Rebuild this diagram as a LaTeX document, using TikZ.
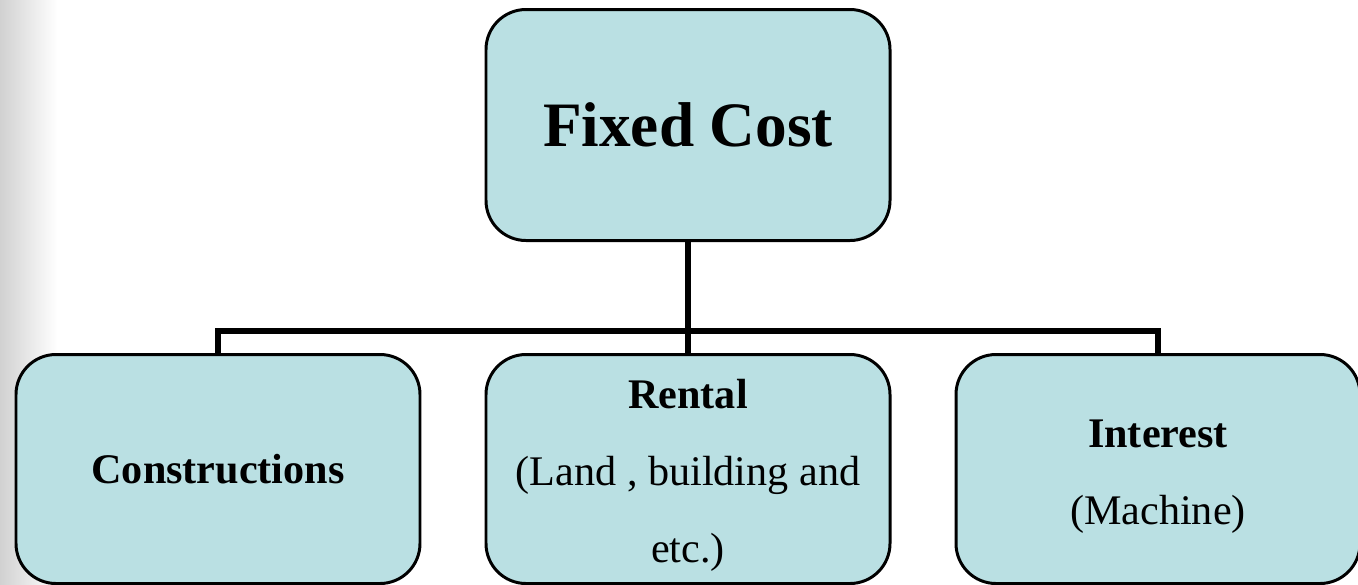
\documentclass[tikz,border=0pt]{standalone}
\usepackage{fontspec}
\setmainfont{Liberation Serif}
\usepackage{tikz}
\usetikzlibrary{positioning}

\definecolor{boxfill}{RGB}{186,224,227}
\newcommand{\toppad}{\rule{0pt}{0.85cm}}

\begin{document}
\begin{tikzpicture}[thick,node distance=6.88cm,
  cost node/.style={rectangle,rounded corners=0.8cm,fill=boxfill,draw,
  line width=1.7pt,minimum width=8.08cm,minimum height=4.58cm,
  align=center,font=\fontsize{24}{43.8}\selectfont},
  top node/.style={cost node,minimum height=4.62cm,
  font=\fontsize{36}{43}\selectfont\bfseries},
  link/.style={line width=3.2pt}]

  \useasboundingbox (0,0) rectangle (27.16,-11.68);
  % grey edge on the left
  \shade[left color=black!18,right color=white] (0,0) rectangle (1.15,-11.68);

  \node[top node] (FC) at (13.76,-2.5) {Fixed Cost};
  \node[cost node] (R) [below of=FC] {\toppad\textbf{Rental}\\(Land , building and\\etc.)};
  \node[cost node] (C) [left of=R,node distance=9.4cm] {\textbf{Constructions}};
  \node[cost node] (I) [right of=R,node distance=9.4cm] {\toppad\textbf{Interest}\\(Machine)};

  \coordinate (bus) at (13.76,-6.62);
  \draw[link] (FC.south) -- (R.north);
  \draw[link] (C.north) |- (bus) -| (I.north);
\end{tikzpicture}
\end{document}
